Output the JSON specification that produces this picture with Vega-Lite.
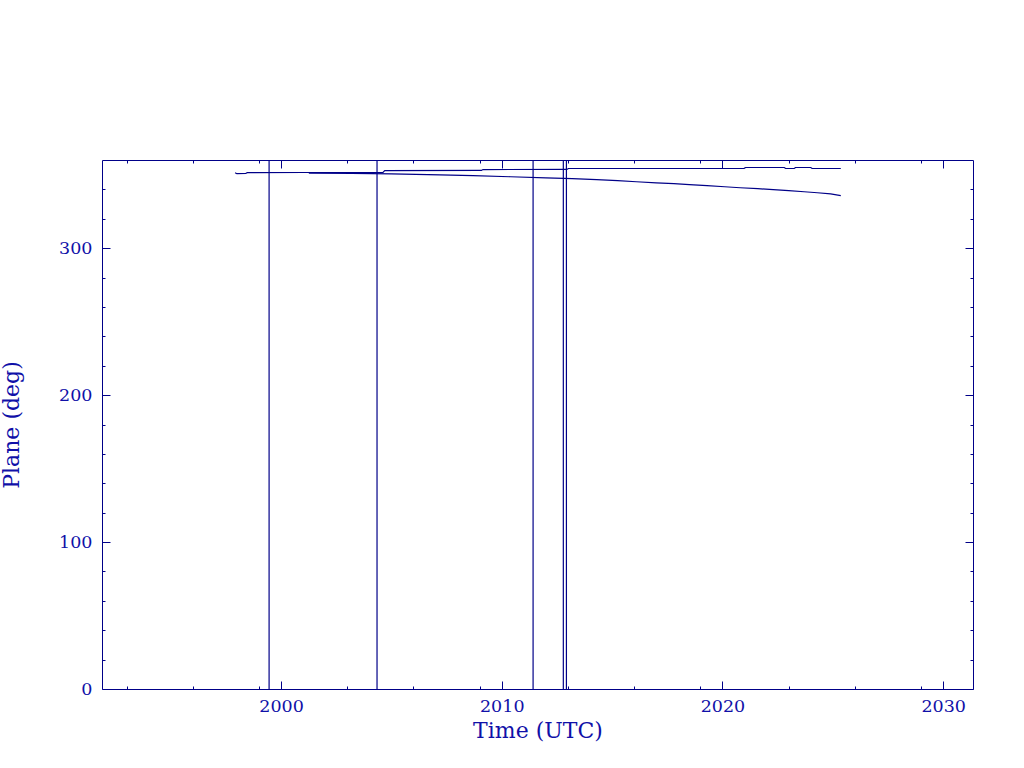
{
  "$schema": "https://vega.github.io/schema/vega-lite/v6.json",
  "width": 871,
  "height": 529,
  "autosize": {"type": "none"},
  "padding": {"left": 102, "top": 160, "right": 51, "bottom": 79},
  "background": "white",
  "config": {
    "view": {"stroke": null},
    "axis": {
      "grid": false,
      "domainColor": "#000088",
      "domainWidth": 1,
      "tickColor": "#000088",
      "tickWidth": 1,
      "labelColor": "#1010a8",
      "titleColor": "#1010a8",
      "labelFont": "DejaVu Serif",
      "titleFont": "DejaVu Serif",
      "titleFontWeight": "normal",
      "labelFontSize": 17.5,
      "titleFontSize": 22,
      "labelOverlap": false,
      "labelFlush": false
    }
  },
  "datasets": {
    "series": [
      {"series": "A", "year": 1997.92, "plane": 351.3},
      {"series": "A", "year": 1998.0, "plane": 350.7},
      {"series": "A", "year": 1998.4, "plane": 350.8},
      {"series": "A", "year": 1998.47, "plane": 351.4},
      {"series": "A", "year": 2001.0, "plane": 351.5},
      {"series": "A", "year": 2004.62, "plane": 351.6},
      {"series": "A", "year": 2004.7, "plane": 352.8},
      {"series": "A", "year": 2009.08, "plane": 352.9},
      {"series": "A", "year": 2009.15, "plane": 353.5},
      {"series": "A", "year": 2012.95, "plane": 353.6},
      {"series": "A", "year": 2013.02, "plane": 354.2},
      {"series": "A", "year": 2020.98, "plane": 354.3},
      {"series": "A", "year": 2021.05, "plane": 354.9},
      {"series": "A", "year": 2022.8, "plane": 354.9},
      {"series": "A", "year": 2022.86, "plane": 354.2},
      {"series": "A", "year": 2023.25, "plane": 354.2},
      {"series": "A", "year": 2023.31, "plane": 354.9},
      {"series": "A", "year": 2024.0, "plane": 354.9},
      {"series": "A", "year": 2024.06, "plane": 354.2},
      {"series": "A", "year": 2025.36, "plane": 354.2},
      {"series": "B", "year": 2001.26, "plane": 351.1},
      {"series": "B", "year": 2003.2, "plane": 350.9},
      {"series": "B", "year": 2005.0, "plane": 350.5},
      {"series": "B", "year": 2007.2, "plane": 349.9},
      {"series": "B", "year": 2008.7, "plane": 349.3},
      {"series": "B", "year": 2010.4, "plane": 348.6},
      {"series": "B", "year": 2012.0, "plane": 347.9},
      {"series": "B", "year": 2013.2, "plane": 347.3},
      {"series": "B", "year": 2014.3, "plane": 346.6},
      {"series": "B", "year": 2015.25, "plane": 345.9},
      {"series": "B", "year": 2016.1, "plane": 345.2},
      {"series": "B", "year": 2017.0, "plane": 344.5},
      {"series": "B", "year": 2017.8, "plane": 343.9},
      {"series": "B", "year": 2018.5, "plane": 343.2},
      {"series": "B", "year": 2019.3, "plane": 342.5},
      {"series": "B", "year": 2020.1, "plane": 341.8},
      {"series": "B", "year": 2020.8, "plane": 341.1},
      {"series": "B", "year": 2021.6, "plane": 340.5},
      {"series": "B", "year": 2022.3, "plane": 339.8},
      {"series": "B", "year": 2023.0, "plane": 339.1},
      {"series": "B", "year": 2023.7, "plane": 338.4},
      {"series": "B", "year": 2024.3, "plane": 337.7},
      {"series": "B", "year": 2024.9, "plane": 337.0},
      {"series": "B", "year": 2025.36, "plane": 335.8}
    ],
    "events": [
      {"year": 1999.46},
      {"year": 2004.35},
      {"year": 2011.42},
      {"year": 2012.79},
      {"year": 2012.93}
    ]
  },
  "layer": [
    {
      "data": {"name": "series"},
      "mark": {"type": "line", "strokeWidth": 1.2, "color": "#000088", "clip": true},
      "encoding": {
        "x": {
          "field": "year",
          "type": "quantitative",
          "scale": {"domain": [1991.89, 2031.35], "nice": false, "zero": false},
          "axis": {
            "orient": "bottom",
            "values": [1993, 1996, 1999, 2000, 2003, 2006, 2009, 2010, 2013, 2016, 2019, 2020, 2023, 2026, 2029, 2030],
            "tickSize": {"condition": {"test": "datum.value % 10 === 0", "value": -8}, "value": -3},
            "labelExpr": "datum.value % 10 === 0 ? datum.label : ''",
            "format": "d",
            "labelPadding": 16,
            "title": "Time (UTC)",
            "titlePadding": 1
          }
        },
        "y": {
          "field": "plane",
          "type": "quantitative",
          "scale": {"domain": [0, 360], "nice": false, "zero": false},
          "axis": {
            "orient": "left",
            "values": [0, 20, 40, 60, 80, 100, 120, 140, 160, 180, 200, 220, 240, 260, 280, 300, 320, 340],
            "tickSize": {"condition": {"test": "datum.value % 100 === 0", "value": -8}, "value": -3},
            "labelExpr": "datum.value % 100 === 0 ? datum.label : ''",
            "format": "d",
            "labelPadding": 18,
            "title": "Plane (deg)",
            "titlePadding": 35
          }
        },
        "detail": {"field": "series"}
      }
    },
    {
      "data": {"name": "events"},
      "mark": {"type": "rule", "strokeWidth": 1.2, "color": "#000088"},
      "encoding": {
        "x": {
          "field": "year",
          "type": "quantitative",
          "axis": {
            "orient": "top",
            "values": [1993, 1996, 1999, 2000, 2003, 2006, 2009, 2010, 2013, 2016, 2019, 2020, 2023, 2026, 2029, 2030],
            "tickSize": {"condition": {"test": "datum.value % 10 === 0", "value": -8}, "value": -3},
            "labels": false,
            "title": null
          }
        },
        "y": {
          "datum": 0,
          "type": "quantitative",
          "axis": {
            "orient": "right",
            "values": [0, 20, 40, 60, 80, 100, 120, 140, 160, 180, 200, 220, 240, 260, 280, 300, 320, 340],
            "tickSize": {"condition": {"test": "datum.value % 100 === 0", "value": -8}, "value": -3},
            "labels": false,
            "title": null
          }
        },
        "y2": {"datum": 360}
      }
    }
  ],
  "resolve": {"axis": {"x": "independent", "y": "independent"}}
}
